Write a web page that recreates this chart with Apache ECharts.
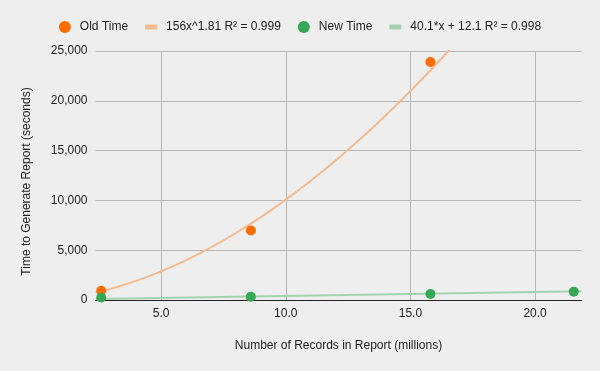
<!DOCTYPE html>
<html>
<head>
<meta charset="utf-8">
<script src="https://cdn.jsdelivr.net/npm/echarts@6/dist/echarts.min.js"></script>
<style>
html,body{margin:0;padding:0;background:#eeeeee;}
#chart{width:600px;height:371px;}
</style>
</head>
<body>
<div id="chart"></div>
<script>
// Data
var seriesNames = ['Old Time', '156x^1.81 R² = 0.999', 'New Time', '40.1*x + 12.1 R² = 0.998'];
var oldX = [2.6, 8.6, 15.8];
var oldY = [930, 6970, 23900];
var newX = [2.6, 8.6, 15.8, 21.55];
var newY = [250, 330, 600, 835];
// Trendline samples
var oldTrendX = [2.37, 3, 4, 5, 6, 7, 8, 9, 10, 11, 12, 13, 14, 15, 16, 17];
var oldTrendY = [744, 1140, 1919, 2872, 3996, 5282, 6725, 8326, 10074, 11968, 14010, 16194, 18518, 20985, 23590, 26320];
var newTrendX = [2.37, 21.86];
var newTrendY = [107, 889];
var xTicks = [5, 10, 15, 20];
var xMin = 2.37, xMax = 21.86;
var yMin = 0, yMax = 25000, yStep = 5000;

function pairs(xs, ys) { return xs.map(function (x, i) { return [x, ys[i]]; }); }

var chart = echarts.init(document.getElementById('chart'), null, {renderer: 'canvas'});
var font = 'Arial, "Liberation Sans", sans-serif';
var barIcon = 'path://M0 0H12V5H0Z';
chart.setOption({
  backgroundColor: '#eeeeee',
  animation: false,
  textStyle: {fontFamily: font},
  legend: {
    left: 'center', top: 16,
    itemWidth: 12, itemHeight: 12, itemGap: 17,
    textStyle: {fontSize: 12, color: '#222', fontFamily: font, padding: [0, 0, 0, 4]},
    data: [
      {name: seriesNames[0], icon: 'circle'},
      {name: seriesNames[1], icon: barIcon},
      {name: seriesNames[2], icon: 'circle'},
      {name: seriesNames[3], icon: barIcon}
    ]
  },
  grid: {left: 95.5, right: 18.5, top: 51, bottom: 71},
  xAxis: {
    type: 'value', min: xMin, max: xMax,
    name: 'Number of Records in Report (millions)',
    nameLocation: 'middle', nameGap: 40,
    nameTextStyle: {fontSize: 12, color: '#222', fontFamily: font},
    axisLine: {show: true, onZero: false, lineStyle: {color: '#222', width: 1}},
    axisTick: {show: false, customValues: xTicks},
    axisLabel: {customValues: xTicks, fontSize: 12, color: '#222', margin: 8, fontFamily: font,
      formatter: function (v) { return v.toFixed(1); }},
    splitLine: {show: true, lineStyle: {color: '#b7b7b7', width: 1}}
  },
  yAxis: {
    type: 'value', min: yMin, max: yMax, interval: yStep,
    name: 'Time to Generate Report (seconds)',
    nameLocation: 'middle', nameGap: 63,
    nameTextStyle: {fontSize: 12, color: '#222', fontFamily: font, padding: [0, 12, 0, 0]},
    axisLine: {show: false}, axisTick: {show: false},
    axisLabel: {fontSize: 12, color: '#222', margin: 8, fontFamily: font,
      formatter: function (v) { return v.toLocaleString('en-US'); }},
    splitLine: {show: true, lineStyle: {color: '#b7b7b7', width: 1}}
  },
  series: [
    {name: seriesNames[0], type: 'scatter', data: pairs(oldX, oldY), symbolSize: 10,
      itemStyle: {color: '#ff6d01', opacity: 1}, z: 5},
    {name: seriesNames[1], type: 'line', data: pairs(oldTrendX, oldTrendY), smooth: true, showSymbol: false,
      symbol: 'none', clip: true,
      lineStyle: {color: '#f5ba8f', width: 2}, itemStyle: {color: '#f5ba8f'}, z: 2},
    {name: seriesNames[2], type: 'scatter', data: pairs(newX, newY), symbolSize: 10,
      itemStyle: {color: '#34a853', opacity: 1}, z: 5},
    {name: seriesNames[3], type: 'line', data: pairs(newTrendX, newTrendY), showSymbol: false,
      symbol: 'none', clip: true,
      lineStyle: {color: '#a4d2b0', width: 2}, itemStyle: {color: '#a4d2b0'}, z: 2}
  ]
});
</script>
</body>
</html>
